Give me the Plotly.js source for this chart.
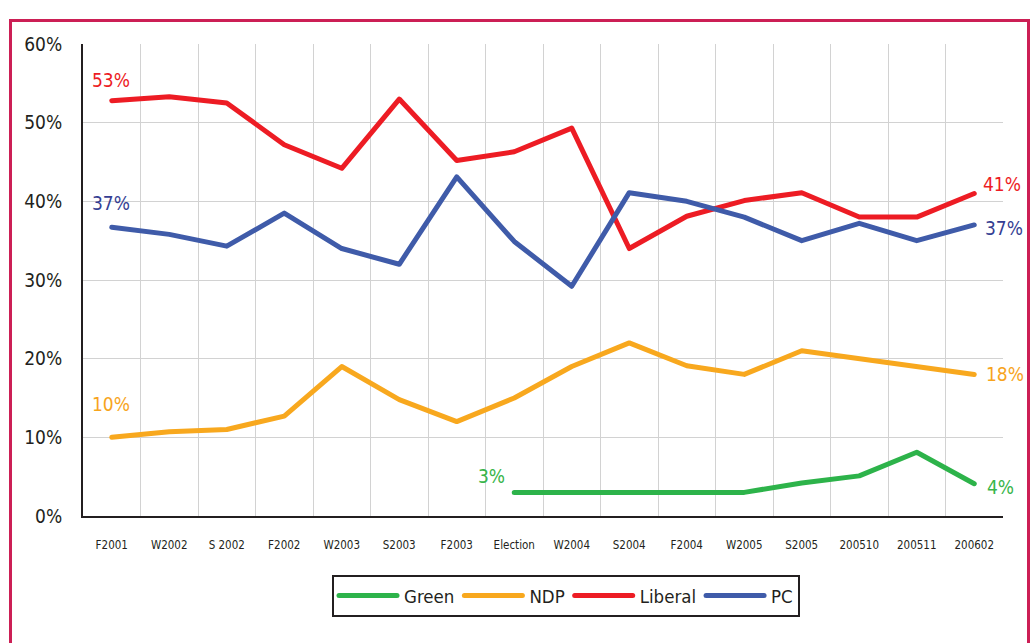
<!DOCTYPE html>
<html><head><meta charset="utf-8">
<script src="https://cdn.plot.ly/plotly-3.0.1.min.js"></script>
<style>
html,body{margin:0;padding:0;background:#fff;overflow:hidden}
#chart{position:absolute;left:0;top:0;width:1032px;height:643px}
#frame{position:absolute;left:9px;top:19px;width:1015px;height:640px;border:3px solid #CC1F55;border-bottom:none;pointer-events:none;z-index:5}
.scatterlayer .js-line{stroke-linecap:round;stroke-linejoin:round}
.legend .js-line{d:path("M5,0h58");stroke-linecap:round}
</style></head>
<body><div id="chart"></div><div id="frame"></div>
<script>
const categories = ["F2001","W2002","S 2002","F2002","W2003","S2003","F2003","Election","W2004","S2004","F2004","W2005","S2005","200510","200511","200602"];
const green   = [null,null,null,null,null,null,null,3.0,3.0,3.0,3.0,3.0,4.2,5.1,8.1,4.1];
const ndp     = [10.0,10.7,11.0,12.7,19.0,14.8,12.0,15.0,19.0,22.0,19.1,18.0,21.0,20.0,19.0,18.0];
const liberal = [52.8,53.3,52.5,47.2,44.2,53.0,45.2,46.3,49.3,34.0,38.1,40.1,41.1,38.0,38.0,41.0];
const pc      = [36.7,35.8,34.3,38.5,34.0,32.0,43.1,34.9,29.2,41.1,40.0,38.0,35.0,37.2,35.0,37.0];
const yTicks  = [0,10,20,30,40,50,60];

const FONT = '"DejaVu Sans Condensed","Liberation Sans Narrow",Roboto,sans-serif';
const SZ = {x:11.5, y:19, leg:18.5, ann:19};
const TXT = '#231F20';
const C = {green:'#2DB34A', ndp:'#F8A81E', liberal:'#ED1C24', pc:'#3F5BA9'};
const CT = {green:'#39B54A', ndp:'#F7A41D', liberal:'#ED1C24', pc:'#353E93'};

function tr(name, y, color){
  return {type:'scatter', mode:'lines', name:name, x:categories, y:y,
    line:{color:color, width:5}, connectgaps:false, hoverinfo:'skip'};
}
const data = [tr('Green',green,C.green), tr('NDP',ndp,C.ndp), tr('Liberal',liberal,C.liberal), tr('PC',pc,C.pc)];

const last = categories.length-1;
const firstGreen = green.findIndex(v => v !== null);
function lab(i, y, color, xanchor, xshift, yshift){
  return {x:i, y:y, xref:'x', yref:'y', text:Math.round(y)+'%', showarrow:false,
    xanchor:xanchor, yanchor:'middle', xshift:xshift, yshift:yshift,
    font:{family:FONT, size:SZ.ann, color:color}};
}
const annotations = [
  lab(0, liberal[0], CT.liberal, 'left', -22, 21),
  lab(0, pc[0], CT.pc, 'left', -22, 24),
  lab(0, ndp[0], CT.ndp, 'left', -22, 33),
  lab(firstGreen, green[firstGreen], CT.green, 'right', -7, 16),
  lab(last, liberal[last], CT.liberal, 'left', 7, 9),
  lab(last, pc[last], CT.pc, 'left', 9, -3),
  lab(last, ndp[last], CT.ndp, 'left', 10, 0),
  lab(last, green[last], CT.green, 'left', 11, -3)
];

const layout = {
  width:1032, height:643,
  margin:{l:83, r:29, t:44, b:127},
  paper_bgcolor:'#fff', plot_bgcolor:'#fff',
  font:{family:FONT, color:TXT},
  showlegend:true,
  legend:{orientation:'h', x:0.525, xanchor:'center', y:-0.125, yanchor:'top',
    bordercolor:TXT, borderwidth:2, bgcolor:'#fff', itemwidth:60,
    font:{family:FONT, size:SZ.leg, color:TXT}, traceorder:'normal'},
  xaxis:{type:'category', range:[-0.5, last+0.5], tickson:'boundaries',
    showgrid:true, gridcolor:'#D2D2D2', gridwidth:1,
    showline:true, linecolor:TXT, linewidth:2, ticks:'', zeroline:false,
    tickfont:{family:FONT, size:SZ.x, color:TXT}, ticklabelstandoff:17, fixedrange:true},
  yaxis:{range:[0,60], tickvals:yTicks, ticktext:yTicks.map(v=>v+'%'),
    showgrid:true, gridcolor:'#D2D2D2', gridwidth:1,
    showline:true, linecolor:TXT, linewidth:2, ticks:'', zeroline:false,
    tickfont:{family:FONT, size:SZ.y, color:TXT}, ticklabelstandoff:15, fixedrange:true},
  shapes:[{type:'line', xref:'paper', yref:'paper', x0:0.002, x1:1, y0:1, y1:1,
    line:{color:'#fff', width:2}, layer:'below'}],
  annotations:annotations,
  hovermode:false
};
Plotly.newPlot('chart', data, layout, {displayModeBar:false, staticPlot:true});
</script>
</body></html>
